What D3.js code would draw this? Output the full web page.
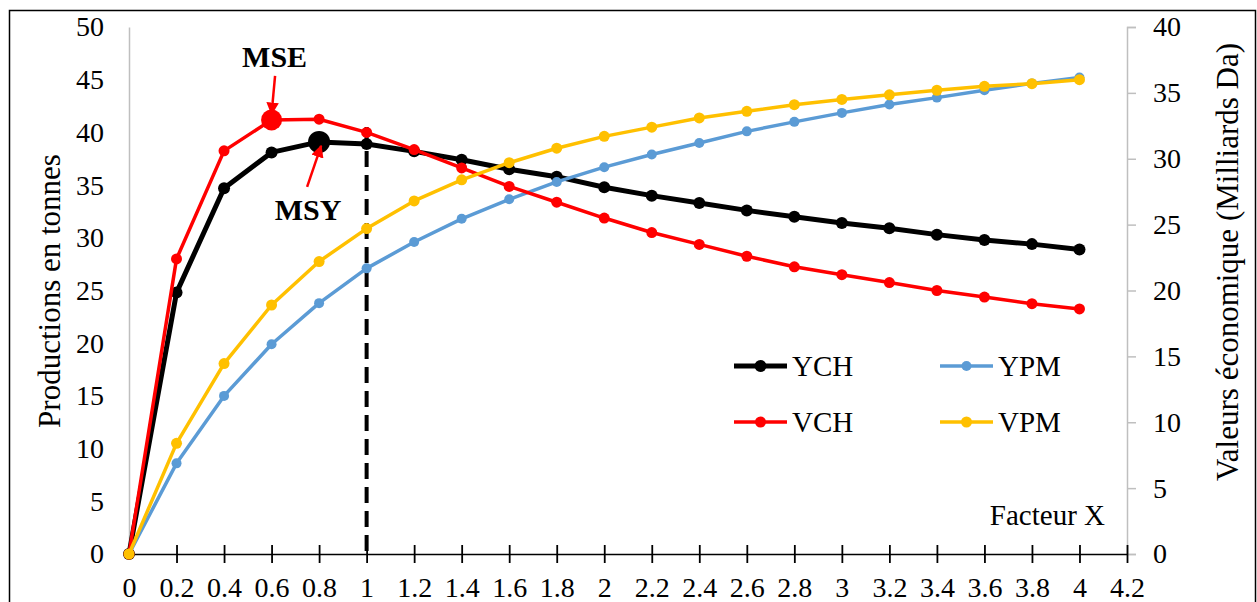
<!DOCTYPE html>
<html><head><meta charset="utf-8">
<script src="https://cdn.jsdelivr.net/npm/d3@7"></script>
<style>
body{margin:0;background:#fff;}
svg text{font-family:"Liberation Serif","Times New Roman",serif;fill:#000;}
</style></head>
<body><svg id="c" width="1257" height="602"></svg>
<script>
const xValues = [0,0.2,0.4,0.6,0.8,1,1.2,1.4,1.6,1.8,2,2.2,2.4,2.6,2.8,3,3.2,3.4,3.6,3.8,4];
const xTicks = [0,0.2,0.4,0.6,0.8,1,1.2,1.4,1.6,1.8,2,2.2,2.4,2.6,2.8,3,3.2,3.4,3.6,3.8,4,4.2];
const leftTicks = [0,5,10,15,20,25,30,35,40,45,50];
const rightTicks = [0,5,10,15,20,25,30,35,40];
const YCH = [0,24.8,34.7,38.1,39.1,38.9,38.2,37.4,36.5,35.8,34.8,34.0,33.3,32.6,32.0,31.4,30.9,30.3,29.8,29.4,28.9];
const YPM = [0,8.6,15.0,19.9,23.8,27.1,29.6,31.8,33.65,35.3,36.7,37.9,39.0,40.1,41.0,41.85,42.65,43.3,44.0,44.65,45.2];
const VCH = [0,22.4,30.6,32.95,33.0,32.0,30.7,29.3,27.9,26.7,25.5,24.4,23.5,22.6,21.8,21.2,20.6,20.0,19.5,19.0,18.6];
const VPM = [0,8.4,14.45,18.9,22.2,24.7,26.8,28.4,29.7,30.8,31.7,32.4,33.1,33.6,34.1,34.5,34.85,35.2,35.5,35.7,36.0];
const seriesNames = ["YCH","YPM","VCH","VPM"];
const leftTitle = "Productions en tonnes";
const rightTitle = "Valeurs économique (Milliards Da)";
const xTitle = "Facteur X";
const refX = 1;
const mseX = 0.6, msyX = 0.8;

const svg = d3.select("#c");
const x = d3.scaleLinear().domain([0,4.2]).range([129,1127]);
const yL = d3.scaleLinear().domain([0,50]).range([554,27]);
const yR = d3.scaleLinear().domain([0,40]).range([554,27]);

// frame
svg.append("rect").attr("x",9.5).attr("y",10.5).attr("width",1246).attr("height",620)
  .attr("fill","none").attr("stroke","#000").attr("stroke-width",1.5);

// left axis (gray line, no ticks)
const gL = svg.append("g").attr("transform","translate(129,0)")
  .call(d3.axisLeft(yL).tickValues(leftTicks).tickSize(0).tickPadding(25).tickFormat(d3.format("d")));
gL.select(".domain").attr("stroke","#bfbfbf").attr("stroke-width",1.5);
gL.selectAll("text").style("font-size","28px").style("font-family","Liberation Serif");

// right axis
const gR = svg.append("g").attr("transform","translate(1127,0)")
  .call(d3.axisRight(yR).tickValues(rightTicks).tickSizeInner(9).tickSizeOuter(9).tickPadding(17).tickFormat(d3.format("d")));
gR.select(".domain").attr("stroke","#bfbfbf").attr("stroke-width",1.5);
gR.selectAll(".tick line").attr("stroke","#bfbfbf").attr("stroke-width",1.5);
gR.selectAll("text").style("font-size","28px").style("font-family","Liberation Serif");

// x axis with crossing ticks
const gX = svg.append("g").attr("transform","translate(0,554)")
  .call(d3.axisBottom(x).tickValues(xTicks).tickSize(9).tickSizeOuter(0).tickPadding(14).tickFormat(d=>String(+d.toFixed(1))));
gX.select(".domain").attr("stroke","#000").attr("stroke-width",1.5);
gX.selectAll(".tick line").attr("y1",-9).attr("y2",9).attr("stroke","#000").attr("stroke-width",1.8);
gX.selectAll(".tick").filter(d=>d===0).select("line").remove();
gX.selectAll("text").style("font-size","28px").style("font-family","Liberation Serif");

// dashed reference line at x=1
svg.append("line").attr("x1",x(refX)).attr("x2",x(refX))
  .attr("y1",yL(YCH[xValues.indexOf(refX)])-17).attr("y2",yL(0))
  .attr("stroke","#000").attr("stroke-width",4).attr("stroke-dasharray","16,8");

// series
const series = [
  {name:"YCH", vals:YCH, y:yL, color:"#000000", w:5, r:6},
  {name:"YPM", vals:YPM, y:yL, color:"#5B9BD5", w:3.5, r:5},
  {name:"VCH", vals:VCH, y:yR, color:"#FF0000", w:3.5, r:5.5},
  {name:"VPM", vals:VPM, y:yR, color:"#FFC000", w:3.5, r:5.5}
];
series.forEach(s=>{
  const line = d3.line().x((d,i)=>x(xValues[i])).y(d=>s.y(d));
  svg.append("path").datum(s.vals).attr("d",line).attr("fill","none")
    .attr("stroke",s.color).attr("stroke-width",s.w).attr("stroke-linejoin","round");
  svg.append("g").selectAll("circle").data(s.vals).join("circle")
    .attr("cx",(d,i)=>x(xValues[i])).attr("cy",d=>s.y(d)).attr("r",s.r).attr("fill",s.color);
});

// highlighted maxima
const iMSE = xValues.indexOf(mseX), iMSY = xValues.indexOf(msyX);
svg.append("circle").attr("cx",x(mseX)).attr("cy",yR(VCH[iMSE])).attr("r",10.5).attr("fill","#FF0000");
svg.append("circle").attr("cx",x(msyX)).attr("cy",yL(YCH[iMSY])).attr("r",11).attr("fill","#000");

// arrows
const defs = svg.append("defs");
defs.append("marker").attr("id","ah").attr("viewBox","0 0 10 10").attr("refX",9).attr("refY",5)
  .attr("markerWidth",5).attr("markerHeight",5).attr("markerUnits","strokeWidth").attr("orient","auto")
  .append("path").attr("d","M0,0 L10,5 L0,10 z").attr("fill","#FF0000");
const px1 = x(mseX), py1 = yR(VCH[iMSE]);
svg.append("line").attr("x1",px1+3.5).attr("y1",py1-44).attr("x2",px1).attr("y2",py1-6)
  .attr("stroke","#FF0000").attr("stroke-width",2.5).attr("marker-end","url(#ah)");
const px2 = x(msyX), py2 = yL(YCH[iMSY]);
svg.append("line").attr("x1",px2-12).attr("y1",py2+45).attr("x2",px2+2).attr("y2",py2+4)
  .attr("stroke","#FF0000").attr("stroke-width",2.5).attr("marker-end","url(#ah)");
svg.append("text").attr("x",px1+3).attr("y",67).attr("text-anchor","middle")
  .style("font-size","30px").style("font-weight","bold").text("MSE");
svg.append("text").attr("x",px2-11).attr("y",220).attr("text-anchor","middle")
  .style("font-size","30px").style("font-weight","bold").text("MSY");

// axis titles
svg.append("text").attr("transform","translate(60,291) rotate(-90)").attr("text-anchor","middle")
  .style("font-size","31px").text(leftTitle);
svg.append("text").attr("transform","translate(1238,262) rotate(-90)").attr("text-anchor","middle")
  .style("font-size","31px").text(rightTitle);
svg.append("text").attr("x",1105).attr("y",525).attr("text-anchor","end")
  .style("font-size","29px").text(xTitle);

// legend
const legPos = [{x:734,y:366},{x:940,y:366},{x:734,y:422},{x:940,y:422}];
series.forEach((s,i)=>{
  const p = legPos[i];
  const g = svg.append("g").attr("transform",`translate(${p.x},${p.y})`);
  g.append("line").attr("x1",0).attr("x2",53).attr("stroke",s.color).attr("stroke-width",s.w);
  g.append("circle").attr("cx",26.5).attr("r",s.r).attr("fill",s.color);
  g.append("text").attr("x",58).attr("y",10).style("font-size","29px").text(seriesNames[i]);
});
</script></body></html>
